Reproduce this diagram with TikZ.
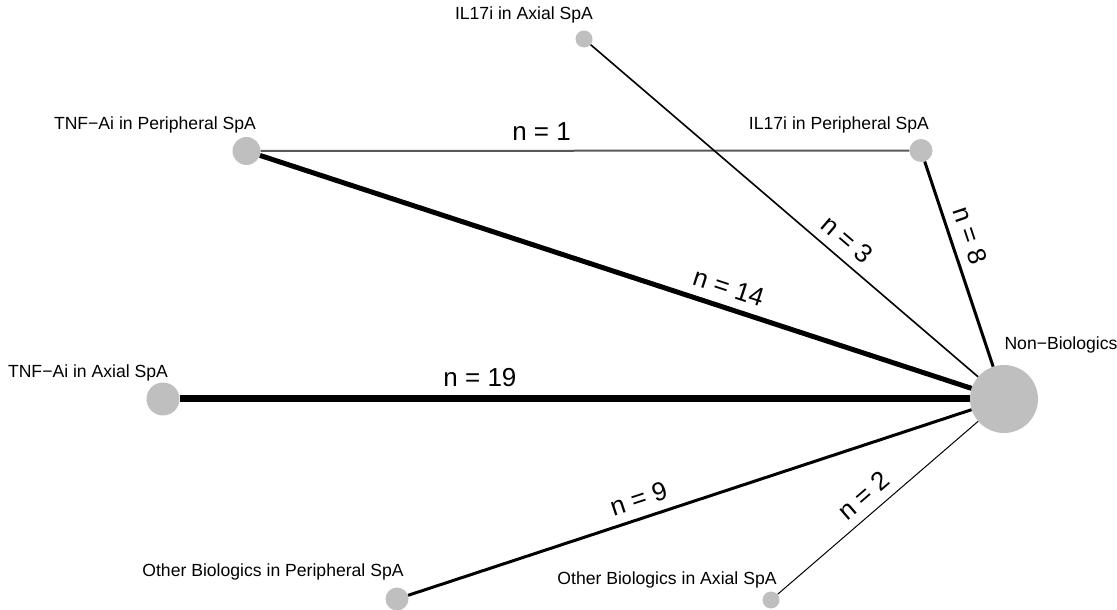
\documentclass[tikz,border=0pt]{standalone}
\usepackage{fontspec}
\setmainfont{Liberation Sans}
\usepackage{xcolor}
\colorlet{colTrt}{black!25}
\colorlet{colLinkOne}{black!65}
\usepackage{tikz}
\usetikzlibrary{positioning}

\begin{document}
\begin{tikzpicture}[x=1pt, y=1pt,
		trt/.style={circle, fill=colTrt, inner sep=0pt, minimum size=#1},
		trtlabel/.style={font=\fontsize{17.6}{20}\selectfont},
		nlabel/.style={font=\fontsize{26}{30}\selectfont, sloped, above=3pt, inner sep=6pt, text=black},
		link/.style={line width=#1}]
	\useasboundingbox (0,0) rectangle (1117,610);
	\node[trt=17pt] (ilAx) at (584,571) {};
	\node[trt=28pt] (tnfP) at (246.5,459) {};
	\node[trt=23pt] (ilP) at (921,459.5) {};
	\node[trt=68pt] (nonBio) at (1004,211) {};
	\node[trt=33pt] (tnfAx) at (163,211) {};
	\node[trt=23pt] (othP) at (397,11) {};
	\node[trt=17pt] (othAx) at (771,10) {};
	\node[trtlabel] (lbIlAx) at (524,595) {IL17i in Axial SpA};
	\node[trtlabel] (lbTnfP) at (155,485) {TNF−Ai in Peripheral SpA};
	\node[trtlabel] (lbIlP) at (839,485) {IL17i in Peripheral SpA};
	\node[trtlabel] (lbNonBio) at (1061,265) {Non−Biologics};
	\node[trtlabel] (lbTnfAx) at (88,237) {TNF−Ai in Axial SpA};
	\node[trtlabel] (lbOthP) at (273,38) {Other Biologics in Peripheral SpA};
	\node[trtlabel] (lbOthAx) at (667,30) {Other Biologics in Axial SpA};
	\draw[link=2pt, colLinkOne] (tnfP) -- node[nlabel, pos=0.433] {n = 1} (ilP);
	\draw[link=1.6pt] (ilAx) -- node[nlabel, pos=0.63] {n = 3} (nonBio);
	\draw[link=3pt] (ilP) -- node[nlabel, pos=0.39] {n = 8} (nonBio);
	\draw[link=5pt] (tnfP) -- node[nlabel, pos=0.65] {n = 14} (nonBio);
	\draw[link=7pt] (tnfAx) -- node[nlabel, pos=0.38] {n = 19} (nonBio);
	\draw[link=3pt] (othP) -- node[nlabel, pos=0.42] {n = 9} (nonBio);
	\draw[link=1pt] (othAx) -- node[nlabel, pos=0.49] {n = 2} (nonBio);
\end{tikzpicture}
\end{document}
